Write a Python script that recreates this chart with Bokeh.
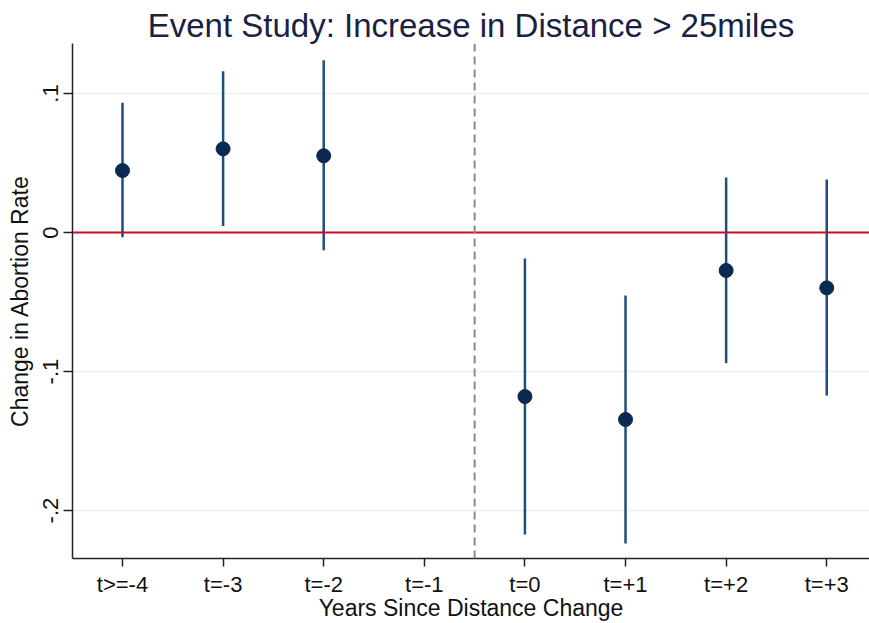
import math
from bokeh.plotting import figure
from bokeh.models import ColumnDataSource, Span, Range1d, FixedTicker
from bokeh.embed import file_html
from bokeh.resources import INLINE

nan = float("nan")
categories = ["t>=-4", "t=-3", "t=-2", "t=-1", "t=0", "t=+1", "t=+2", "t=+3"]
coef = [0.0446, 0.0602, 0.0552, nan, -0.1180, -0.1345, -0.0273, -0.0398]
ci_low = [-0.0034, 0.0047, -0.0128, nan, -0.2173, -0.2237, -0.0940, -0.1173]
ci_high = [0.0933, 0.1160, 0.1240, nan, -0.0187, -0.0453, 0.0396, 0.0381]
y_ticks = [-0.2, -0.1, 0.0, 0.1]
y_tick_labels = ["-.2", "-.1", "0", ".1"]
event_break = 3.5  # between t=-1 and t=0

idx = [i for i, c in enumerate(coef) if not math.isnan(c)]
src = ColumnDataSource(dict(
    x=[i for i in idx],
    coef=[coef[i] for i in idx],
    lo=[ci_low[i] for i in idx],
    hi=[ci_high[i] for i in idx],
))

FONT = "Liberation Sans"
p = figure(width=869, height=623, output_backend="svg", toolbar_location=None,
           x_range=Range1d(-0.497, 7.425), y_range=Range1d(-0.2345, 0.136),
           min_border_left=72, min_border_right=0, min_border_top=43, min_border_bottom=65,
           title="Event Study: Increase in Distance > 25miles")
p.outline_line_color = None
p.background_fill_color = "white"
p.border_fill_color = "white"

p.title.text_font = FONT
p.title.text_font_size = "33px"
p.title.text_font_style = "normal"
p.title.text_color = "#1a2244"
p.title.align = "center"
p.title.standoff = 0
p.title.offset = 0

# Grid
p.xgrid.visible = False
p.ygrid.ticker = FixedTicker(ticks=y_ticks)
p.ygrid.grid_line_color = "#e6eff2"
p.ygrid.grid_line_width = 1.5

# Axes
for ax in (p.xaxis[0], p.yaxis[0]):
    ax.axis_line_color = "#222222"
    ax.axis_line_width = 1.5
    ax.major_tick_line_color = "#222222"
    ax.major_tick_line_width = 1.5
    ax.minor_tick_line_color = None
    ax.major_tick_in = 0
    ax.major_label_text_font = FONT
    ax.major_label_text_font_size = "22px"
    ax.major_label_text_color = "#111111"
    ax.axis_label_text_font = FONT
    ax.axis_label_text_font_size = "23px"
    ax.axis_label_text_font_style = "normal"
    ax.axis_label_text_color = "#111111"

p.xaxis.ticker = FixedTicker(ticks=list(range(len(categories))))
p.xaxis.major_label_overrides = {i: c for i, c in enumerate(categories)}
p.xaxis.major_tick_out = 8
p.xaxis.major_label_standoff = 5
p.xaxis.axis_label = "Years Since Distance Change"
p.xaxis.axis_label_standoff = -5

p.yaxis.ticker = FixedTicker(ticks=y_ticks)
p.yaxis.major_label_overrides = {t: l for t, l in zip(y_ticks, y_tick_labels)}
p.yaxis.major_label_orientation = "vertical"
p.yaxis.major_tick_out = 9
p.yaxis.major_label_standoff = 5
p.yaxis.axis_label = "Change in Abortion Rate"
p.yaxis.axis_label_standoff = 8

# Reference lines
p.add_layout(Span(location=0, dimension="width", line_color="#c8102e", line_width=2))
p.add_layout(Span(location=event_break, dimension="height", line_color="#8a8a8a",
                  line_width=2, line_dash="8 5"))

# CIs and points
p.segment(x0="x", y0="lo", x1="x", y1="hi", source=src, line_color="#1f4e79", line_width=2.5)
p.scatter(x="x", y="coef", source=src, size=14, fill_color="#0b2a52", line_color="#0b2a52")

open("out.html", "w").write(file_html(p, INLINE))
